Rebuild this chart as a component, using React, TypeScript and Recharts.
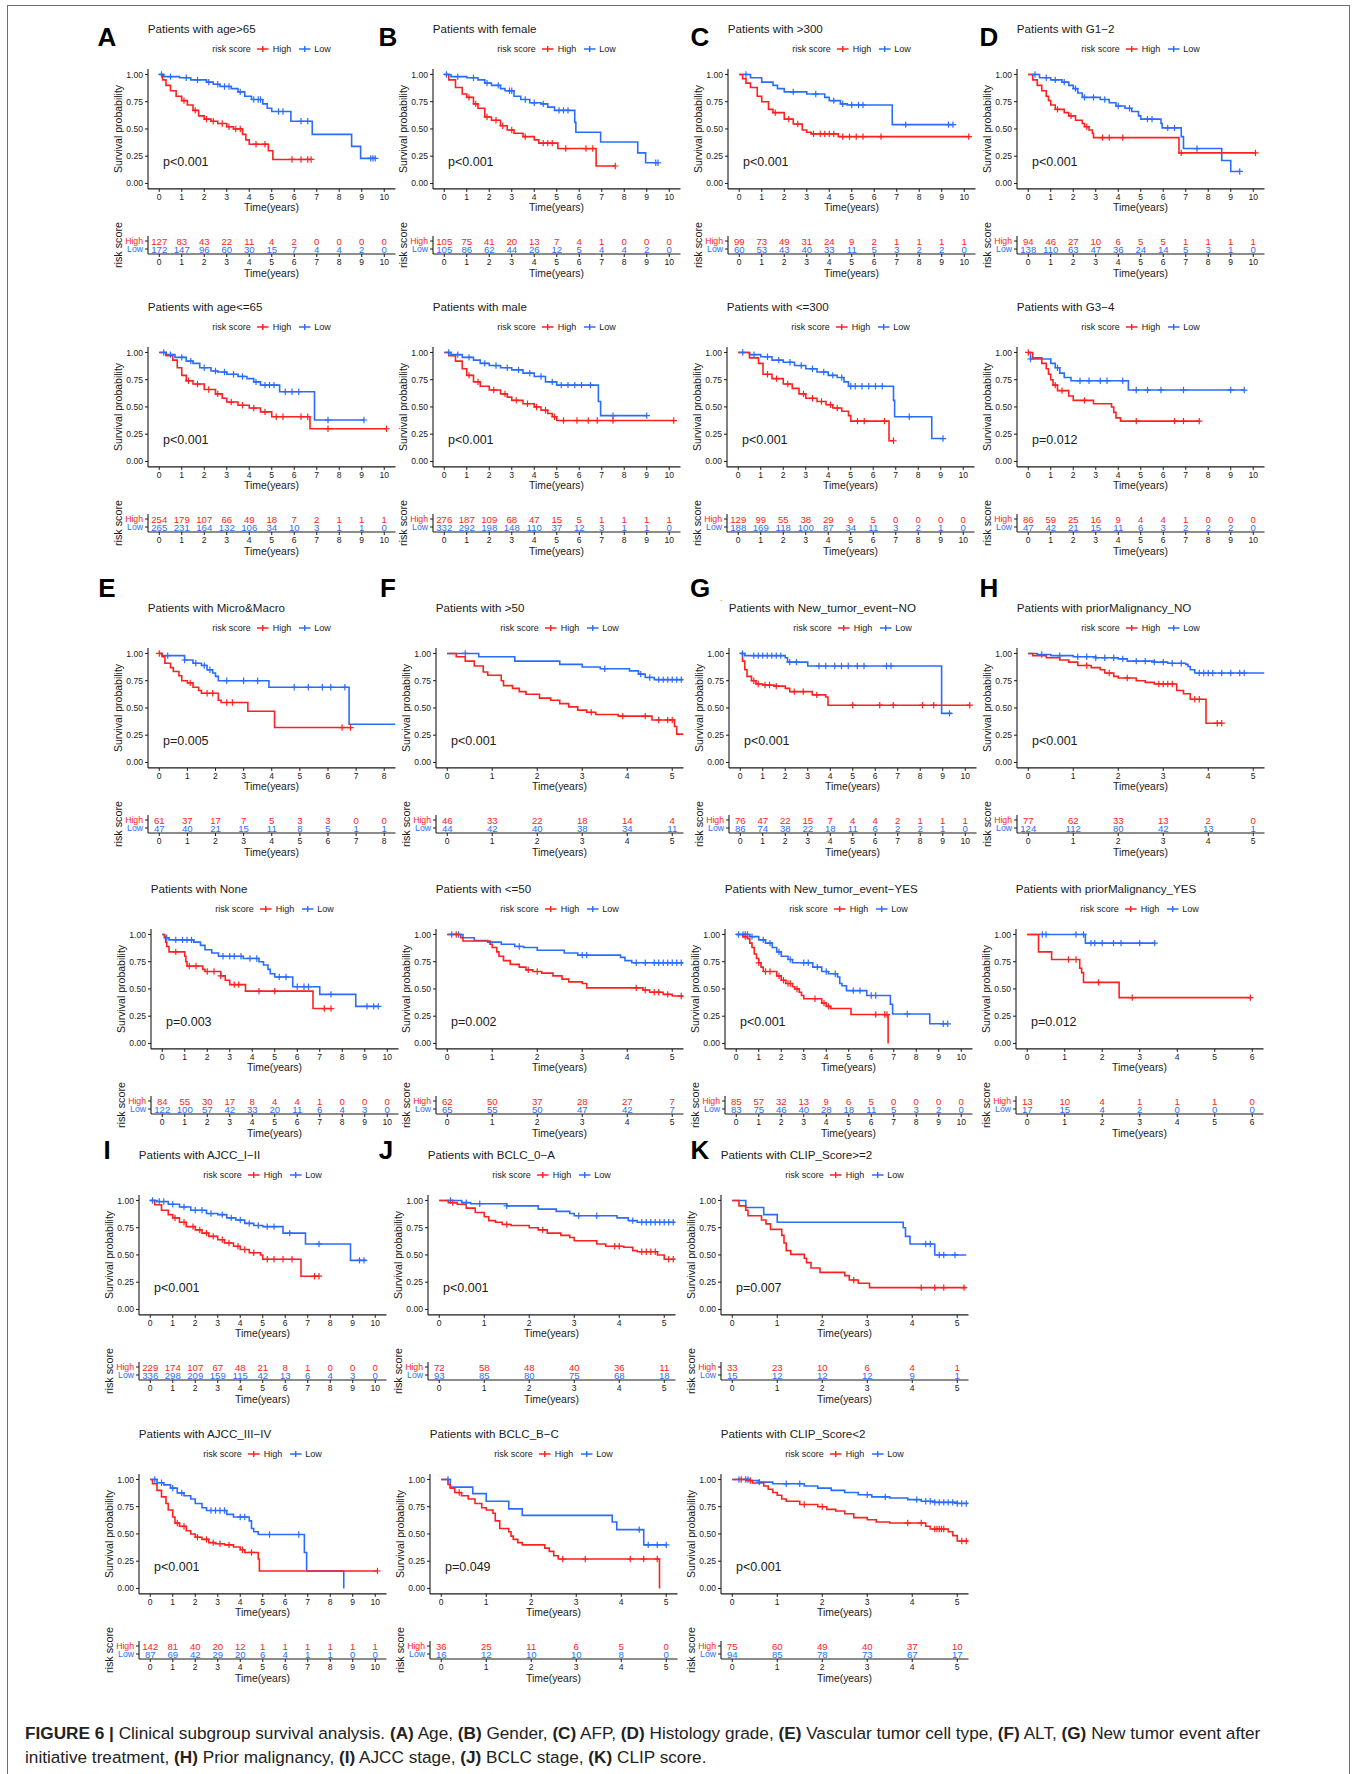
import { ComposedChart, Line, Scatter, XAxis, YAxis } from 'recharts'

type Step = [number, number]

const RED = '#ff2020'
const BLUE = '#2a6cff'
const INK = '#1a1a1a'
const FONT = '"Liberation Sans", Arial, Helvetica, sans-serif'

// ---------- A: age ----------
const ageOldHigh: Step[] = [[0, 1], [0.15, 0.95], [0.3, 0.9], [0.5, 0.85], [0.75, 0.8], [1, 0.76], [1.25, 0.72], [1.5, 0.67], [1.75, 0.62], [2, 0.59], [2.3, 0.57], [2.6, 0.55], [3, 0.52], [3.3, 0.5], [3.7, 0.45], [3.85, 0.4], [4, 0.36], [4.85, 0.3], [5.05, 0.22], [6.75, 0.22]]
const ageOldLow: Step[] = [[0, 1], [0.2, 0.98], [0.9, 0.97], [1.4, 0.95], [2.1, 0.93], [2.4, 0.91], [2.7, 0.89], [3.2, 0.87], [3.5, 0.84], [3.8, 0.8], [4.1, 0.77], [4.6, 0.73], [4.8, 0.69], [5, 0.66], [5.85, 0.57], [6.8, 0.45], [8.55, 0.34], [8.95, 0.23], [9.6, 0.23]]
const ageOldHighCens = [1.1, 1.6, 2.1, 2.4, 2.8, 3.1, 3.4, 3.6, 4.3, 4.7, 5.9, 6.3, 6.6, 6.75]
const ageOldLowCens = [0.1, 0.5, 1.2, 1.7, 2.2, 2.6, 2.9, 3.1, 3.6, 4.2, 4.4, 4.5, 5.3, 5.5, 6.3, 6.6, 9.4, 9.5, 9.6]
const ageOldRiskHigh = [127, 83, 43, 22, 11, 4, 2, 0, 0, 0, 0]
const ageOldRiskLow = [172, 147, 96, 60, 30, 15, 7, 4, 4, 2, 0]

const ageYoungHigh: Step[] = [[0, 1], [0.3, 0.97], [0.6, 0.93], [0.8, 0.86], [1, 0.79], [1.2, 0.74], [1.5, 0.71], [2, 0.66], [2.5, 0.62], [2.8, 0.58], [3, 0.545], [3.5, 0.515], [4, 0.49], [4.5, 0.455], [5, 0.41], [6.7, 0.3], [10.1, 0.3]]
const ageYoungLow: Step[] = [[0, 1], [0.3, 0.98], [0.7, 0.955], [1.2, 0.92], [1.5, 0.9], [1.8, 0.86], [2.3, 0.83], [2.6, 0.82], [3, 0.8], [3.5, 0.78], [3.9, 0.76], [4.2, 0.73], [4.5, 0.7], [5.35, 0.64], [6.9, 0.38], [9.1, 0.38]]
const ageYoungHighCens = [1.3, 1.7, 2.2, 2.6, 3.2, 3.7, 4.2, 4.7, 5.2, 5.5, 6.3, 6.6, 7.5, 10.1]
const ageYoungLowCens = [0.2, 0.5, 1.0, 1.4, 2.0, 2.5, 2.9, 3.3, 3.7, 4.3, 4.7, 4.9, 5.1, 5.6, 5.9, 6.2, 7.5, 9.1]
const ageYoungRiskHigh = [254, 179, 107, 66, 49, 18, 7, 2, 1, 1, 1]
const ageYoungRiskLow = [265, 231, 164, 132, 106, 34, 10, 3, 1, 1, 0]

// ---------- B: gender ----------
const femaleHigh: Step[] = [[0, 1], [0.2, 0.95], [0.5, 0.88], [0.8, 0.82], [1, 0.79], [1.3, 0.73], [1.5, 0.69], [1.8, 0.61], [2.1, 0.58], [2.5, 0.53], [2.8, 0.49], [3.1, 0.46], [3.5, 0.43], [4, 0.4], [4.2, 0.37], [5.05, 0.32], [6.75, 0.16], [7.6, 0.16]]
const femaleLow: Step[] = [[0, 1], [0.3, 0.98], [1, 0.97], [1.5, 0.95], [1.8, 0.92], [2.1, 0.9], [2.5, 0.87], [2.7, 0.85], [3.1, 0.8], [3.4, 0.77], [3.8, 0.74], [4.3, 0.73], [4.6, 0.7], [4.9, 0.67], [5.8, 0.56], [5.85, 0.47], [6.95, 0.38], [8.6, 0.28], [8.95, 0.19], [9.55, 0.19]]
const femaleHighCens = [1.1, 1.4, 1.9, 2.3, 2.6, 3.0, 3.6, 4.4, 4.6, 4.8, 5.4, 6.3, 6.6, 7.6]
const femaleLowCens = [0.1, 0.6, 1.3, 1.9, 2.4, 2.9, 3.0, 3.6, 4.0, 4.4, 5.1, 5.3, 5.5, 9.4, 9.5]
const femaleRiskHigh = [105, 75, 41, 20, 13, 7, 4, 1, 0, 0, 0]
const femaleRiskLow = [105, 86, 62, 44, 26, 12, 5, 4, 4, 2, 0]

const maleHigh: Step[] = [[0, 1], [0.2, 0.97], [0.5, 0.92], [0.8, 0.85], [1, 0.79], [1.3, 0.73], [1.6, 0.69], [2, 0.655], [2.5, 0.62], [2.8, 0.59], [3, 0.56], [3.5, 0.53], [4, 0.5], [4.3, 0.47], [4.6, 0.44], [4.8, 0.41], [5, 0.375], [10.2, 0.375]]
const maleLow: Step[] = [[0, 1], [0.3, 0.98], [0.8, 0.955], [1.3, 0.93], [1.6, 0.9], [2, 0.88], [2.5, 0.86], [3, 0.84], [3.5, 0.81], [4, 0.78], [4.5, 0.73], [5, 0.7], [6.85, 0.55], [6.95, 0.42], [9, 0.42]]
const maleHighCens = [1.1, 1.5, 2.2, 2.7, 3.2, 3.7, 4.1, 4.5, 4.9, 5.3, 5.9, 6.4, 6.8, 7.5, 10.2]
const maleLowCens = [0.2, 0.6, 1.1, 1.8, 2.3, 2.8, 3.3, 3.8, 4.3, 4.8, 5.2, 5.5, 5.8, 6.1, 6.5, 7.5, 9.0]
const maleRiskHigh = [276, 187, 109, 68, 47, 15, 5, 1, 1, 1, 1]
const maleRiskLow = [332, 292, 198, 148, 110, 37, 12, 3, 1, 1, 0]

// ---------- C: AFP ----------
const afpOverHigh: Step[] = [[0, 1], [0.15, 0.96], [0.3, 0.92], [0.5, 0.88], [0.8, 0.8], [1, 0.75], [1.3, 0.68], [1.5, 0.65], [2, 0.59], [2.4, 0.545], [2.8, 0.49], [3, 0.47], [3.2, 0.455], [4.4, 0.43], [10.2, 0.43]]
const afpOverLow: Step[] = [[0, 1], [0.5, 0.97], [1, 0.93], [1.5, 0.9], [1.7, 0.87], [2, 0.84], [3, 0.82], [3.8, 0.79], [4, 0.76], [4.5, 0.73], [4.8, 0.72], [6.8, 0.54], [9.5, 0.54]]
const afpOverHighCens = [1.6, 2.2, 2.6, 3.3, 3.6, 3.8, 4.0, 4.2, 4.6, 4.9, 5.2, 5.5, 6.3, 10.2]
const afpOverLowCens = [0.3, 2.4, 3.4, 4.2, 4.6, 5.0, 5.3, 5.5, 7.4, 9.3, 9.5]
const afpOverRiskHigh = [99, 73, 49, 31, 24, 9, 2, 1, 1, 1, 1]
const afpOverRiskLow = [60, 53, 43, 40, 33, 11, 5, 3, 2, 2, 0]

const afpUnderHigh: Step[] = [[0, 1], [0.5, 0.95], [0.9, 0.9], [1.1, 0.8], [1.5, 0.76], [2, 0.71], [2.4, 0.67], [2.7, 0.62], [3, 0.58], [3.5, 0.55], [3.9, 0.52], [4.2, 0.49], [4.6, 0.46], [4.9, 0.42], [5, 0.37], [6.7, 0.19], [6.9, 0.19]]
const afpUnderLow: Step[] = [[0, 1], [0.5, 0.98], [1, 0.96], [1.5, 0.93], [2, 0.91], [2.5, 0.88], [3, 0.85], [3.5, 0.82], [4, 0.79], [4.4, 0.77], [4.7, 0.73], [4.9, 0.69], [6.9, 0.56], [6.95, 0.41], [8.6, 0.21], [9.1, 0.21]]
const afpUnderHighCens = [1.3, 1.7, 2.2, 2.9, 3.3, 3.7, 4.1, 4.4, 5.3, 5.6, 6.5, 6.9]
const afpUnderLowCens = [0.2, 0.7, 1.3, 1.8, 2.3, 2.8, 3.3, 3.8, 4.2, 4.6, 5.0, 5.2, 5.5, 5.8, 6.1, 6.4, 7.6, 9.1]
const afpUnderRiskHigh = [129, 99, 55, 38, 29, 9, 5, 0, 0, 0, 0]
const afpUnderRiskLow = [188, 169, 118, 100, 87, 34, 11, 3, 2, 1, 0]

// ---------- D: histology grade ----------
const g12High: Step[] = [[0, 1], [0.2, 0.95], [0.4, 0.9], [0.6, 0.85], [0.8, 0.8], [0.9, 0.76], [1, 0.72], [1.2, 0.68], [1.6, 0.65], [1.8, 0.62], [2.1, 0.58], [2.4, 0.55], [2.5, 0.52], [2.7, 0.49], [2.85, 0.46], [2.9, 0.42], [6.7, 0.28], [10.1, 0.28]]
const g12Low: Step[] = [[0, 1], [0.5, 0.97], [1, 0.95], [1.5, 0.93], [1.8, 0.9], [2, 0.87], [2.2, 0.83], [2.4, 0.79], [3.2, 0.77], [3.6, 0.74], [3.9, 0.71], [4.3, 0.69], [4.6, 0.66], [4.9, 0.62], [5, 0.59], [5.9, 0.55], [5.95, 0.51], [6.8, 0.43], [6.9, 0.32], [8.6, 0.21], [9, 0.11], [9.4, 0.11]]
const g12HighCens = [1.3, 1.9, 2.6, 3.3, 3.6, 4.2, 6.8, 10.1]
const g12LowCens = [0.3, 0.8, 1.2, 1.6, 2.1, 2.5, 2.9, 3.4, 4.0, 4.5, 5.3, 5.5, 6.2, 6.5, 7.5, 9.4]
const g12RiskHigh = [94, 46, 27, 10, 6, 5, 5, 1, 1, 1, 1]
const g12RiskLow = [138, 110, 63, 47, 36, 24, 14, 5, 3, 1, 0]

const g34High: Step[] = [[0, 1], [0.2, 0.95], [0.6, 0.9], [0.8, 0.85], [0.9, 0.8], [1, 0.75], [1.1, 0.7], [1.3, 0.65], [1.8, 0.6], [2, 0.56], [2.9, 0.53], [3.7, 0.5], [3.8, 0.45], [3.9, 0.4], [4.1, 0.37], [7.6, 0.37]]
const g34Low: Step[] = [[0, 1], [0.1, 0.94], [1, 0.9], [1.2, 0.86], [1.4, 0.81], [1.6, 0.77], [1.9, 0.74], [4.45, 0.655], [9.6, 0.655]]
const g34HighCens = [0, 1.2, 1.5, 2.5, 4.8, 6.5, 6.9, 7.6]
const g34LowCens = [0.1, 1.3, 2.3, 2.7, 3.2, 3.5, 4.2, 4.8, 5.3, 5.9, 6.9, 9.0, 9.6]
const g34RiskHigh = [86, 59, 25, 16, 9, 4, 4, 1, 0, 0, 0]
const g34RiskLow = [47, 42, 21, 15, 11, 6, 3, 2, 2, 2, 0]

// ---------- E: vascular tumor cell type ----------
const microHigh: Step[] = [[0, 1], [0.1, 0.97], [0.2, 0.91], [0.4, 0.87], [0.5, 0.835], [0.7, 0.795], [0.8, 0.75], [1, 0.73], [1.2, 0.69], [1.4, 0.66], [1.5, 0.635], [2.1, 0.57], [2.2, 0.55], [3.15, 0.47], [4.1, 0.32], [6.8, 0.32]]
const microLow: Step[] = [[0, 1], [0.1, 0.98], [0.9, 0.94], [1.2, 0.91], [1.5, 0.89], [1.7, 0.85], [1.9, 0.82], [2, 0.79], [2.1, 0.75], [3.9, 0.69], [6.75, 0.35], [8.4, 0.35]]
const microHighCens = [0, 1.1, 1.7, 1.9, 2.4, 2.6, 6.5, 6.8]
const microLowCens = [0.3, 0.9, 1.3, 1.6, 1.8, 2.4, 3.0, 3.5, 4.8, 5.3, 5.8, 6.1, 6.6]
const microRiskHigh = [61, 37, 17, 7, 5, 3, 3, 0, 0]
const microRiskLow = [47, 40, 21, 15, 11, 8, 5, 1, 1]

const noneHigh: Step[] = [[0, 1], [0.1, 0.98], [0.15, 0.93], [0.2, 0.89], [0.3, 0.84], [1, 0.8], [1.05, 0.75], [1.1, 0.71], [1.8, 0.68], [1.9, 0.66], [2.6, 0.62], [2.8, 0.58], [3, 0.54], [3.7, 0.48], [6.7, 0.32], [7.5, 0.32]]
const noneLow: Step[] = [[0, 1], [0.1, 0.97], [0.3, 0.95], [1.4, 0.93], [1.7, 0.9], [1.9, 0.86], [2.2, 0.83], [2.5, 0.8], [3.6, 0.78], [4.3, 0.75], [4.5, 0.72], [4.7, 0.68], [4.8, 0.64], [5, 0.61], [5.8, 0.52], [7, 0.45], [8.6, 0.34], [9.6, 0.34]]
const noneHighCens = [0.6, 1.2, 1.5, 2.0, 2.3, 2.6, 3.2, 3.4, 4.3, 5.0, 7.2, 7.5]
const noneLowCens = [0.2, 0.6, 0.9, 1.1, 1.3, 2.7, 3.0, 3.2, 3.5, 3.9, 4.2, 5.2, 5.5, 6.0, 6.3, 6.5, 7.5, 9.1, 9.4, 9.6]
const noneRiskHigh = [84, 55, 30, 17, 8, 4, 4, 1, 0, 0, 0]
const noneRiskLow = [122, 100, 57, 42, 33, 20, 11, 6, 4, 3, 0]

// ---------- F: ALT ----------
const altOverHigh: Step[] = [[0, 1], [0.2, 0.97], [0.4, 0.93], [0.6, 0.885], [0.8, 0.83], [0.9, 0.8], [1.2, 0.75], [1.25, 0.705], [1.45, 0.68], [1.6, 0.65], [1.75, 0.625], [2.05, 0.59], [2.3, 0.57], [2.5, 0.54], [2.7, 0.51], [2.9, 0.48], [3.1, 0.46], [3.3, 0.44], [3.8, 0.425], [4.55, 0.39], [5.05, 0.33], [5.1, 0.26], [5.25, 0.26]]
const altOverLow: Step[] = [[0, 1], [0.7, 0.97], [1.5, 0.93], [2.5, 0.9], [3, 0.876], [3.4, 0.86], [4.05, 0.84], [4.25, 0.81], [4.4, 0.78], [4.6, 0.76], [5.25, 0.76]]
const altOverHighCens = [3.2, 3.9, 4.4, 4.7, 4.9, 5.0]
const altOverLowCens = [0.4, 3.5, 4.3, 4.5, 4.7, 4.8, 4.9, 5.0, 5.1, 5.2]
const altOverRiskHigh = [46, 33, 22, 18, 14, 4]
const altOverRiskLow = [44, 42, 40, 38, 34, 11]

const altUnderHigh: Step[] = [[0, 1], [0.3, 0.97], [0.35, 0.94], [0.95, 0.91], [1, 0.88], [1.1, 0.84], [1.15, 0.8], [1.25, 0.76], [1.4, 0.725], [1.6, 0.7], [1.75, 0.675], [1.9, 0.66], [2.1, 0.645], [2.35, 0.62], [2.55, 0.59], [2.7, 0.565], [3, 0.55], [3.1, 0.51], [4.35, 0.49], [4.5, 0.47], [4.8, 0.45], [5, 0.435], [5.25, 0.435]]
const altUnderLow: Step[] = [[0, 1], [0.35, 0.97], [0.6, 0.945], [0.9, 0.93], [1.2, 0.91], [1.5, 0.89], [1.7, 0.88], [2, 0.855], [2.6, 0.83], [2.9, 0.81], [3.85, 0.79], [3.95, 0.76], [4.1, 0.74], [5.25, 0.74]]
const altUnderHighCens = [0.2, 1.8, 2.0, 4.2, 4.4, 4.6, 4.7, 4.9, 5.2]
const altUnderLowCens = [0.1, 0.25, 1.6, 3.0, 3.1, 4.2, 4.4, 4.6, 4.7, 4.8, 4.9, 5.0, 5.1, 5.2]
const altUnderRiskHigh = [62, 50, 37, 28, 27, 7]
const altUnderRiskLow = [65, 55, 50, 47, 42, 7]

// ---------- G: new tumor event ----------
const newNoHigh: Step[] = [[0, 1], [0.1, 0.93], [0.2, 0.85], [0.3, 0.79], [0.5, 0.75], [0.7, 0.72], [1, 0.71], [1.5, 0.7], [2, 0.68], [2.2, 0.65], [3.2, 0.62], [3.8, 0.6], [3.9, 0.525], [10.2, 0.525]]
const newNoLow: Step[] = [[0, 1], [0.2, 0.98], [2, 0.96], [2.1, 0.92], [3, 0.885], [8.95, 0.45], [9.4, 0.45]]
const newNoHighCens = [0.6, 0.8, 1.1, 1.3, 1.6, 2.4, 2.8, 3.4, 5.0, 6.2, 6.8, 8.1, 8.6, 10.2]
const newNoLowCens = [0.1, 0.6, 0.8, 1.0, 1.2, 1.4, 1.6, 1.8, 2.2, 2.5, 3.5, 3.8, 4.2, 4.5, 4.8, 5.2, 5.5, 6.5, 6.7, 9.3]
const newNoRiskHigh = [76, 47, 22, 15, 7, 4, 4, 2, 1, 1, 1]
const newNoRiskLow = [86, 74, 38, 22, 18, 11, 6, 2, 2, 1, 0]

const newYesHigh: Step[] = [[0, 1], [0.3, 0.98], [0.5, 0.96], [0.6, 0.92], [0.7, 0.88], [0.8, 0.82], [0.9, 0.78], [1, 0.74], [1.1, 0.7], [1.2, 0.66], [1.8, 0.62], [2, 0.58], [2.2, 0.55], [2.5, 0.52], [2.6, 0.5], [2.8, 0.47], [2.9, 0.44], [3, 0.41], [3.8, 0.37], [4, 0.34], [4.2, 0.32], [5.1, 0.265], [6.75, 0]]
const newYesLow: Step[] = [[0, 1], [0.6, 0.98], [1, 0.95], [1.3, 0.92], [1.6, 0.88], [1.8, 0.84], [2, 0.8], [2.3, 0.77], [2.5, 0.74], [3.4, 0.7], [3.8, 0.66], [4.1, 0.64], [4.5, 0.61], [4.6, 0.55], [4.7, 0.53], [4.9, 0.485], [5.8, 0.44], [6.85, 0.36], [6.95, 0.27], [8.6, 0.18], [9.4, 0.18]]
const newYesHighCens = [0.4, 1.0, 1.3, 1.5, 1.9, 2.1, 2.3, 2.4, 2.7, 3.5, 3.9, 4.1, 6.2, 6.6, 6.7]
const newYesLowCens = [0.1, 0.3, 0.4, 0.5, 0.7, 1.2, 1.5, 1.9, 2.4, 3.0, 3.2, 3.6, 4.0, 4.4, 5.2, 5.5, 6.0, 6.2, 7.6, 9.2, 9.4]
const newYesRiskHigh = [85, 57, 32, 13, 9, 6, 5, 0, 0, 0, 0]
const newYesRiskLow = [83, 75, 46, 40, 28, 18, 11, 5, 3, 2, 0]

// ---------- H: prior malignancy ----------
const priorNoHigh: Step[] = [[0, 1], [0.1, 0.98], [0.4, 0.96], [0.7, 0.94], [0.9, 0.92], [1.1, 0.89], [1.4, 0.87], [1.6, 0.85], [1.7, 0.82], [1.9, 0.79], [2, 0.775], [2.4, 0.75], [2.6, 0.735], [2.8, 0.72], [3.3, 0.66], [3.45, 0.63], [3.6, 0.58], [3.95, 0.36], [4.3, 0.36]]
const priorNoLow: Step[] = [[0, 1], [0.2, 0.99], [0.5, 0.98], [1, 0.97], [1.5, 0.96], [2, 0.95], [2.2, 0.93], [2.8, 0.92], [3.1, 0.91], [3.5, 0.9], [3.55, 0.88], [3.6, 0.85], [3.7, 0.82], [5.25, 0.82]]
const priorNoHighCens = [1.3, 1.8, 2.2, 2.9, 3.0, 3.1, 3.2, 3.7, 3.8, 4.2, 4.3]
const priorNoLowCens = [0.3, 0.7, 1.1, 1.3, 1.5, 1.7, 1.9, 2.1, 2.4, 2.6, 2.8, 3.0, 3.2, 3.4, 3.8, 3.9, 4.0, 4.1, 4.3, 4.5, 4.7, 4.8]
const priorNoRiskHigh = [77, 62, 33, 13, 2, 0]
const priorNoRiskLow = [124, 112, 80, 42, 13, 1]

const priorYesHigh: Step[] = [[0, 1], [0.3, 0.84], [0.65, 0.77], [1.4, 0.69], [1.45, 0.65], [1.5, 0.56], [2.45, 0.42], [5.95, 0.42]]
const priorYesLow: Step[] = [[0, 1], [1.55, 0.92], [3.4, 0.92]]
const priorYesHighCens = [1.1, 1.3, 1.9, 2.8, 5.95]
const priorYesLowCens = [0.4, 0.5, 1.3, 1.5, 1.7, 1.8, 2.0, 2.3, 2.5, 3.0, 3.4]
const priorYesRiskHigh = [13, 10, 4, 1, 1, 1, 0]
const priorYesRiskLow = [17, 15, 4, 2, 0, 0, 0]

// ---------- I: AJCC stage ----------
const ajccEarlyHigh: Step[] = [[0, 1], [0.2, 0.96], [0.5, 0.91], [0.8, 0.87], [1, 0.84], [1.3, 0.8], [1.6, 0.76], [2, 0.73], [2.3, 0.7], [2.6, 0.67], [3, 0.64], [3.3, 0.61], [3.7, 0.58], [4, 0.55], [4.4, 0.52], [4.9, 0.5], [5, 0.46], [6.7, 0.305], [7.5, 0.305]]
const ajccEarlyLow: Step[] = [[0, 1], [0.3, 0.99], [0.8, 0.965], [1.3, 0.94], [1.8, 0.91], [2.5, 0.88], [3, 0.87], [3.4, 0.84], [3.8, 0.82], [4.2, 0.79], [4.6, 0.77], [5, 0.76], [5.9, 0.7], [6.9, 0.6], [8.9, 0.45], [9.6, 0.45]]
const ajccEarlyHighCens = [1.1, 1.5, 1.9, 2.2, 2.5, 2.8, 3.2, 3.5, 3.9, 4.2, 4.6, 5.2, 5.5, 5.9, 6.3, 7.3, 7.5]
const ajccEarlyLowCens = [0.1, 0.4, 0.6, 1.0, 1.5, 2.0, 2.3, 2.7, 3.2, 3.6, 4.0, 4.4, 4.8, 5.2, 5.5, 6.2, 7.5, 9.3, 9.5]
const ajccEarlyRiskHigh = [229, 174, 107, 67, 48, 21, 8, 1, 0, 0, 0]
const ajccEarlyRiskLow = [336, 298, 209, 159, 115, 42, 13, 6, 4, 3, 0]

const ajccLateHigh: Step[] = [[0, 1], [0.1, 0.96], [0.3, 0.9], [0.5, 0.84], [0.7, 0.78], [0.8, 0.72], [1, 0.655], [1.1, 0.6], [1.3, 0.57], [1.6, 0.53], [1.8, 0.5], [2, 0.47], [2.3, 0.45], [2.6, 0.42], [2.9, 0.41], [3.3, 0.4], [3.7, 0.38], [4, 0.355], [4.2, 0.33], [4.8, 0.27], [4.85, 0.16], [10.1, 0.16]]
const ajccLateLow: Step[] = [[0, 1], [0.3, 0.97], [0.6, 0.95], [0.9, 0.92], [1.2, 0.877], [1.5, 0.85], [1.8, 0.82], [2, 0.78], [2.3, 0.74], [2.5, 0.715], [3.4, 0.68], [3.7, 0.655], [4.4, 0.62], [4.5, 0.55], [4.6, 0.52], [4.8, 0.495], [6.85, 0.33], [6.95, 0.16], [8.6, 0]]
const ajccLateHighCens = [1.2, 1.5, 2.1, 2.5, 2.8, 3.1, 3.5, 4.1, 4.5, 10.1]
const ajccLateLowCens = [0.2, 0.5, 1.0, 1.4, 2.7, 2.9, 3.1, 3.3, 4.0, 4.2, 5.3, 6.6]
const ajccLateRiskHigh = [142, 81, 40, 20, 12, 1, 1, 1, 1, 1, 1]
const ajccLateRiskLow = [87, 69, 42, 29, 20, 6, 4, 1, 1, 0, 0]

// ---------- J: BCLC stage ----------
const bclcEarlyHigh: Step[] = [[0, 1], [0.2, 0.98], [0.4, 0.965], [0.6, 0.93], [0.8, 0.89], [1, 0.85], [1.1, 0.815], [1.25, 0.8], [1.4, 0.78], [1.6, 0.77], [2, 0.75], [2.2, 0.73], [2.4, 0.7], [2.7, 0.68], [2.9, 0.66], [3, 0.63], [3.5, 0.6], [3.7, 0.58], [4.1, 0.57], [4.3, 0.54], [4.4, 0.53], [4.85, 0.5], [5, 0.46], [5.25, 0.46]]
const bclcEarlyLow: Step[] = [[0, 1], [0.5, 0.98], [0.7, 0.97], [1.5, 0.95], [2.2, 0.92], [2.6, 0.9], [2.9, 0.88], [3, 0.86], [3.95, 0.84], [4.2, 0.815], [4.4, 0.8], [5.25, 0.8]]
const bclcEarlyHighCens = [0.3, 1.5, 2.3, 3.9, 4.0, 4.5, 4.6, 4.7, 4.8, 5.1, 5.2]
const bclcEarlyLowCens = [0.25, 0.6, 0.9, 1.5, 3.1, 3.5, 4.3, 4.5, 4.6, 4.7, 4.8, 4.9, 5.0, 5.1, 5.2]
const bclcEarlyRiskHigh = [72, 58, 48, 40, 36, 11]
const bclcEarlyRiskLow = [93, 85, 80, 75, 68, 18]

const bclcLateHigh: Step[] = [[0, 1], [0.15, 0.955], [0.2, 0.92], [0.3, 0.88], [0.45, 0.85], [0.6, 0.82], [0.75, 0.78], [0.9, 0.74], [1, 0.72], [1.15, 0.69], [1.2, 0.62], [1.3, 0.55], [1.5, 0.52], [1.55, 0.48], [1.6, 0.45], [1.7, 0.42], [1.8, 0.4], [2.3, 0.37], [2.4, 0.34], [2.5, 0.3], [2.6, 0.27], [4.85, 0]]
const bclcLateLow: Step[] = [[0, 1], [0.2, 0.93], [0.7, 0.87], [1, 0.8], [1.5, 0.73], [1.8, 0.67], [3.8, 0.61], [3.9, 0.54], [4.5, 0.4], [5, 0.4]]
const bclcLateHighCens = [0.4, 2.7, 3.2, 4.2, 4.5, 4.8]
const bclcLateLowCens = [0.15, 4.4, 4.6, 4.8, 5.0]
const bclcLateRiskHigh = [36, 25, 11, 6, 5, 0]
const bclcLateRiskLow = [16, 12, 10, 10, 8, 0]

// ---------- K: CLIP score ----------
const clipHighHigh: Step[] = [[0, 1], [0.15, 0.95], [0.3, 0.91], [0.35, 0.86], [0.65, 0.82], [0.75, 0.785], [0.85, 0.735], [1.1, 0.68], [1.15, 0.61], [1.2, 0.54], [1.3, 0.505], [1.6, 0.47], [1.65, 0.43], [1.75, 0.38], [1.95, 0.34], [2.5, 0.31], [2.6, 0.27], [2.8, 0.24], [3.05, 0.2], [5.2, 0.2]]
const clipHighLow: Step[] = [[0, 1], [0.3, 0.935], [0.7, 0.87], [1, 0.8], [3.8, 0.75], [3.85, 0.67], [3.95, 0.6], [4.5, 0.5], [5.2, 0.5]]
const clipHighHighCens = [2.7, 4.2, 4.5, 4.7, 5.15]
const clipHighLowCens = [4.3, 4.4, 4.6, 4.7, 4.95]
const clipHighRiskHigh = [33, 23, 10, 6, 4, 1]
const clipHighRiskLow = [15, 12, 12, 12, 9, 1]

const clipLowHigh: Step[] = [[0, 1], [0.3, 0.99], [0.45, 0.967], [0.7, 0.94], [0.8, 0.91], [0.9, 0.88], [1, 0.855], [1.1, 0.82], [1.2, 0.8], [1.5, 0.77], [1.9, 0.75], [2.1, 0.725], [2.3, 0.71], [2.5, 0.685], [2.7, 0.65], [3, 0.63], [3.2, 0.61], [3.5, 0.6], [4.3, 0.57], [4.4, 0.545], [4.8, 0.52], [4.9, 0.485], [5, 0.435], [5.25, 0.435]]
const clipLowLow: Step[] = [[0, 1], [0.4, 0.99], [0.6, 0.975], [0.9, 0.96], [1.6, 0.94], [1.9, 0.92], [2.2, 0.9], [2.5, 0.88], [2.8, 0.86], [3.1, 0.84], [3.5, 0.83], [3.9, 0.815], [4.2, 0.8], [4.5, 0.79], [5, 0.78], [5.25, 0.78]]
const clipLowHighCens = [0.2, 0.4, 1.6, 2.0, 3.9, 4.2, 4.5, 4.55, 4.6, 4.65, 4.7, 5.1, 5.2]
const clipLowLowCens = [0.15, 0.3, 0.35, 0.6, 1.2, 1.5, 3.0, 3.4, 4.1, 4.3, 4.4, 4.5, 4.6, 4.7, 4.8, 4.9, 5.0, 5.1, 5.2]
const clipLowRiskHigh = [75, 60, 49, 40, 37, 10]
const clipLowRiskLow = [94, 85, 78, 73, 67, 17]

interface Panel {
  title: string
  p: string
  xmax: number
  x0: number // pixel position of t = 0
  y1: number // pixel position of survival = 1
  high: Step[]
  low: Step[]
  highCens: number[]
  lowCens: number[]
  riskHigh: number[]
  riskLow: number[]
}

const ROW_Y = [74, 352, 653, 934, 1200, 1479]

const panels: Panel[] = [
  { title: 'Patients with age>65', p: 'p<0.001', xmax: 10, x0: 159, y1: ROW_Y[0], high: ageOldHigh, low: ageOldLow, highCens: ageOldHighCens, lowCens: ageOldLowCens, riskHigh: ageOldRiskHigh, riskLow: ageOldRiskLow },
  { title: 'Patients with female', p: 'p<0.001', xmax: 10, x0: 444, y1: ROW_Y[0], high: femaleHigh, low: femaleLow, highCens: femaleHighCens, lowCens: femaleLowCens, riskHigh: femaleRiskHigh, riskLow: femaleRiskLow },
  { title: 'Patients with >300', p: 'p<0.001', xmax: 10, x0: 739, y1: ROW_Y[0], high: afpOverHigh, low: afpOverLow, highCens: afpOverHighCens, lowCens: afpOverLowCens, riskHigh: afpOverRiskHigh, riskLow: afpOverRiskLow },
  { title: 'Patients with G1\u22122', p: 'p<0.001', xmax: 10, x0: 1028, y1: ROW_Y[0], high: g12High, low: g12Low, highCens: g12HighCens, lowCens: g12LowCens, riskHigh: g12RiskHigh, riskLow: g12RiskLow },
  { title: 'Patients with age<=65', p: 'p<0.001', xmax: 10, x0: 159, y1: ROW_Y[1], high: ageYoungHigh, low: ageYoungLow, highCens: ageYoungHighCens, lowCens: ageYoungLowCens, riskHigh: ageYoungRiskHigh, riskLow: ageYoungRiskLow },
  { title: 'Patients with male', p: 'p<0.001', xmax: 10, x0: 444, y1: ROW_Y[1], high: maleHigh, low: maleLow, highCens: maleHighCens, lowCens: maleLowCens, riskHigh: maleRiskHigh, riskLow: maleRiskLow },
  { title: 'Patients with <=300', p: 'p<0.001', xmax: 10, x0: 738, y1: ROW_Y[1], high: afpUnderHigh, low: afpUnderLow, highCens: afpUnderHighCens, lowCens: afpUnderLowCens, riskHigh: afpUnderRiskHigh, riskLow: afpUnderRiskLow },
  { title: 'Patients with G3\u22124', p: 'p=0.012', xmax: 10, x0: 1028, y1: ROW_Y[1], high: g34High, low: g34Low, highCens: g34HighCens, lowCens: g34LowCens, riskHigh: g34RiskHigh, riskLow: g34RiskLow },
  { title: 'Patients with Micro&Macro', p: 'p=0.005', xmax: 8, x0: 159, y1: ROW_Y[2], high: microHigh, low: microLow, highCens: microHighCens, lowCens: microLowCens, riskHigh: microRiskHigh, riskLow: microRiskLow },
  { title: 'Patients with >50', p: 'p<0.001', xmax: 5, x0: 447, y1: ROW_Y[2], high: altOverHigh, low: altOverLow, highCens: altOverHighCens, lowCens: altOverLowCens, riskHigh: altOverRiskHigh, riskLow: altOverRiskLow },
  { title: 'Patients with New_tumor_event\u2212NO', p: 'p<0.001', xmax: 10, x0: 740, y1: ROW_Y[2], high: newNoHigh, low: newNoLow, highCens: newNoHighCens, lowCens: newNoLowCens, riskHigh: newNoRiskHigh, riskLow: newNoRiskLow },
  { title: 'Patients with priorMalignancy_NO', p: 'p<0.001', xmax: 5, x0: 1028, y1: ROW_Y[2], high: priorNoHigh, low: priorNoLow, highCens: priorNoHighCens, lowCens: priorNoLowCens, riskHigh: priorNoRiskHigh, riskLow: priorNoRiskLow },
  { title: 'Patients with None', p: 'p=0.003', xmax: 10, x0: 162, y1: ROW_Y[3], high: noneHigh, low: noneLow, highCens: noneHighCens, lowCens: noneLowCens, riskHigh: noneRiskHigh, riskLow: noneRiskLow },
  { title: 'Patients with <=50', p: 'p=0.002', xmax: 5, x0: 447, y1: ROW_Y[3], high: altUnderHigh, low: altUnderLow, highCens: altUnderHighCens, lowCens: altUnderLowCens, riskHigh: altUnderRiskHigh, riskLow: altUnderRiskLow },
  { title: 'Patients with New_tumor_event\u2212YES', p: 'p<0.001', xmax: 10, x0: 736, y1: ROW_Y[3], high: newYesHigh, low: newYesLow, highCens: newYesHighCens, lowCens: newYesLowCens, riskHigh: newYesRiskHigh, riskLow: newYesRiskLow },
  { title: 'Patients with priorMalignancy_YES', p: 'p=0.012', xmax: 6, x0: 1027, y1: ROW_Y[3], high: priorYesHigh, low: priorYesLow, highCens: priorYesHighCens, lowCens: priorYesLowCens, riskHigh: priorYesRiskHigh, riskLow: priorYesRiskLow },
  { title: 'Patients with AJCC_I\u2212II', p: 'p<0.001', xmax: 10, x0: 150, y1: ROW_Y[4], high: ajccEarlyHigh, low: ajccEarlyLow, highCens: ajccEarlyHighCens, lowCens: ajccEarlyLowCens, riskHigh: ajccEarlyRiskHigh, riskLow: ajccEarlyRiskLow },
  { title: 'Patients with BCLC_0\u2212A', p: 'p<0.001', xmax: 5, x0: 439, y1: ROW_Y[4], high: bclcEarlyHigh, low: bclcEarlyLow, highCens: bclcEarlyHighCens, lowCens: bclcEarlyLowCens, riskHigh: bclcEarlyRiskHigh, riskLow: bclcEarlyRiskLow },
  { title: 'Patients with CLIP_Score>=2', p: 'p=0.007', xmax: 5, x0: 732, y1: ROW_Y[4], high: clipHighHigh, low: clipHighLow, highCens: clipHighHighCens, lowCens: clipHighLowCens, riskHigh: clipHighRiskHigh, riskLow: clipHighRiskLow },
  { title: 'Patients with AJCC_III\u2212IV', p: 'p<0.001', xmax: 10, x0: 150, y1: ROW_Y[5], high: ajccLateHigh, low: ajccLateLow, highCens: ajccLateHighCens, lowCens: ajccLateLowCens, riskHigh: ajccLateRiskHigh, riskLow: ajccLateRiskLow },
  { title: 'Patients with BCLC_B\u2212C', p: 'p=0.049', xmax: 5, x0: 441, y1: ROW_Y[5], high: bclcLateHigh, low: bclcLateLow, highCens: bclcLateHighCens, lowCens: bclcLateLowCens, riskHigh: bclcLateRiskHigh, riskLow: bclcLateRiskLow },
  { title: 'Patients with CLIP_Score<2', p: 'p<0.001', xmax: 5, x0: 732, y1: ROW_Y[5], high: clipLowHigh, low: clipLowLow, highCens: clipLowHighCens, lowCens: clipLowLowCens, riskHigh: clipLowRiskHigh, riskLow: clipLowRiskLow },
]

const letters = [
  { t: 'A', x: 107, y: 37 }, { t: 'B', x: 388, y: 37 }, { t: 'C', x: 700, y: 37 }, { t: 'D', x: 989, y: 37 },
  { t: 'E', x: 107, y: 588 }, { t: 'F', x: 388, y: 588 }, { t: 'G', x: 700, y: 588 }, { t: 'H', x: 989, y: 588 },
  { t: 'I', x: 107, y: 1150 }, { t: 'J', x: 386, y: 1150 }, { t: 'K', x: 700, y: 1150 },
]

// plot geometry shared by every panel
const SPAN = 225 // px covered by t = 0..xmax
const PLOT_W = SPAN * 1.1
const UNIT_Y = 109 // px covered by survival 0..1
const PLOT_H = UNIT_Y * 1.1
const AXIS_W = 60
const TICK_FONT = 8.6

const survAt = (steps: Step[], t: number) => {
  let s = steps[0][1]
  for (const [st, sv] of steps) if (st <= t) s = sv
  return s
}

const plus = (color: string) => (props: any) => {
  const { cx, cy } = props
  if (cx == null || cy == null) return <g />
  return <path d={`M${cx - 3.2},${cy}H${cx + 3.2}M${cx},${cy - 3.2}V${cy + 3.2}`} stroke={color} strokeWidth={1.2} fill="none" />
}

const countLabel = (color: string) => (props: any) => {
  const { cx, cy, payload } = props
  if (cx == null || cy == null) return <g />
  return (
    <text x={cx} y={cy} textAnchor="middle" dominantBaseline="central" fontSize={9.6} fill={color}>
      {payload.n}
    </text>
  )
}

const RiskTick = (props: any) => {
  const { x, y, payload } = props
  const isHigh = payload.value === 2
  return (
    <text x={x} y={y} textAnchor="end" dominantBaseline="central" fontSize={8.7} fill={isHigh ? RED : BLUE}>
      {isHigh ? 'High' : 'Low'}
    </text>
  )
}

const axisProps = {
  stroke: INK,
  tickSize: 3,
  tickMargin: 2,
  axisLine: { stroke: INK, strokeWidth: 1.1 },
  tickLine: { stroke: INK, strokeWidth: 1 },
}

function Legend({ cx, cy }: { cx: number; cy: number }) {
  const key = (color: string) => (
    <svg width={12} height={8} style={{ display: 'block' }}>
      <line x1={0} y1={4} x2={12} y2={4} stroke={color} strokeWidth={1.6} />
      <path d="M6,1V7" stroke={color} strokeWidth={1.4} />
    </svg>
  )
  return (
    <div style={{ position: 'absolute', left: cx, top: cy, transform: 'translate(-50%,-50%)', display: 'flex', alignItems: 'center', gap: 4, fontSize: 9, color: INK, whiteSpace: 'nowrap' }}>
      <span style={{ marginRight: 2 }}>risk score</span>
      {key(RED)}
      <span style={{ marginRight: 3 }}>High</span>
      {key(BLUE)}
      <span>Low</span>
    </div>
  )
}

function KMPanel({ p }: { p: Panel }) {
  const pad = p.xmax * 0.05
  const xDomain = [-pad, p.xmax + pad]
  const xTicks = Array.from({ length: p.xmax + 1 }, (_, i) => i)
  const plotLeft = p.x0 - SPAN * 0.05
  const plotTop = p.y1 - UNIT_Y * 0.05
  const midX = plotLeft + PLOT_W / 2

  const highLine = p.high.map(([t, s]) => ({ t, s }))
  const lowLine = p.low.map(([t, s]) => ({ t, s }))
  const highMarks = p.highCens.map(t => ({ t, s: survAt(p.high, t) }))
  const lowMarks = p.lowCens.map(t => ({ t, s: survAt(p.low, t) }))
  const tableHigh = p.riskHigh.map((n, i) => ({ t: i, row: 2, n }))
  const tableLow = p.riskLow.map((n, i) => ({ t: i, row: 1, n }))

  const label = (text: string, x: number, y: number, size: number, extra: React.CSSProperties = {}) => (
    <div style={{ position: 'absolute', left: x, top: y, transform: 'translate(-50%,-50%)', fontSize: size, color: INK, whiteSpace: 'nowrap', ...extra }}>{text}</div>
  )

  return (
    <>
      <div style={{ position: 'absolute', left: plotLeft, top: p.y1 - 46, transform: 'translateY(-50%)', fontSize: 11.6, color: INK, whiteSpace: 'nowrap' }}>{p.title}</div>
      <Legend cx={midX} cy={p.y1 - 25} />

      <div style={{ position: 'absolute', left: plotLeft - AXIS_W, top: plotTop - 4 }}>
        <ComposedChart width={PLOT_W + AXIS_W + 8} height={PLOT_H + 24} margin={{ top: 4, right: 8, bottom: 0, left: 0 }}>
          <XAxis {...axisProps} type="number" dataKey="t" domain={xDomain} ticks={xTicks} interval={0} allowDataOverflow height={20} tick={{ fontSize: TICK_FONT, fill: INK }} />
          <YAxis {...axisProps} type="number" dataKey="s" domain={[-0.05, 1.05]} ticks={[0, 0.25, 0.5, 0.75, 1]} interval={0} allowDataOverflow width={AXIS_W} tick={{ fontSize: TICK_FONT, fill: INK }} tickFormatter={(v: number) => v.toFixed(2)} />
          <Line data={lowLine} dataKey="s" type="stepAfter" stroke={BLUE} strokeWidth={1.6} dot={false} isAnimationActive={false} />
          <Line data={highLine} dataKey="s" type="stepAfter" stroke={RED} strokeWidth={1.6} dot={false} isAnimationActive={false} />
          <Scatter data={lowMarks} dataKey="s" shape={plus(BLUE)} isAnimationActive={false} />
          <Scatter data={highMarks} dataKey="s" shape={plus(RED)} isAnimationActive={false} />
        </ComposedChart>
      </div>

      {label('Survival probability', p.x0 - 41, p.y1 + 54.5, 10.5, { transform: 'translate(-50%,-50%) rotate(-90deg)' })}
      <div style={{ position: 'absolute', left: p.x0 + 4, top: p.y1 + 88, transform: 'translateY(-50%)', fontSize: 12.5, color: INK, whiteSpace: 'nowrap' }}>{p.p}</div>
      {label('Time(years)', midX, p.y1 + 133, 10.4)}

      <div style={{ position: 'absolute', left: plotLeft - AXIS_W, top: p.y1 + 160 }}>
        <ComposedChart width={PLOT_W + AXIS_W + 8} height={42} margin={{ top: 2, right: 8, bottom: 0, left: 0 }}>
          <XAxis {...axisProps} type="number" dataKey="t" domain={xDomain} ticks={xTicks} interval={0} allowDataOverflow height={22} tick={{ fontSize: TICK_FONT, fill: INK }} />
          <YAxis {...axisProps} type="number" dataKey="row" domain={[0.375, 2.625]} ticks={[1, 2]} interval={0} width={AXIS_W} tick={<RiskTick />} />
          <Scatter data={tableHigh} dataKey="row" shape={countLabel(RED)} isAnimationActive={false} />
          <Scatter data={tableLow} dataKey="row" shape={countLabel(BLUE)} isAnimationActive={false} />
        </ComposedChart>
      </div>
      {label('risk score', p.x0 - 41, p.y1 + 171, 10.8, { transform: 'translate(-50%,-50%) rotate(-90deg)' })}
      {label('Time(years)', midX, p.y1 + 199, 10.4)}
    </>
  )
}

export default function App() {
  return (
    <div style={{ position: 'absolute', left: 0, top: 0, width: 1356, height: 1774, overflow: 'hidden', background: '#fff', fontFamily: FONT, color: INK }}>
      <div style={{ position: 'absolute', left: 7, top: 5, width: 1341, height: 1800, border: '1.5px solid #6e6e6e', borderBottom: 'none' }} />
      {letters.map(l => (
        <div key={l.t} style={{ position: 'absolute', left: l.x, top: l.y, transform: 'translate(-50%,-50%)', fontSize: 26, fontWeight: 700, color: '#000' }}>{l.t}</div>
      ))}
      <div style={{ position: 'absolute', left: 720, top: 594, fontSize: 8, color: '#555' }}>.</div>
      {panels.map(p => (
        <KMPanel key={p.title} p={p} />
      ))}
      <div style={{ position: 'absolute', left: 25, top: 1721, fontSize: 17.2, lineHeight: '24px', color: '#222', whiteSpace: 'nowrap' }}>
        <div>
          <b>FIGURE 6 | </b>Clinical subgroup survival analysis. <b>(A)</b> Age, <b>(B)</b> Gender, <b>(C)</b> AFP, <b>(D)</b> Histology grade, <b>(E)</b> Vascular tumor cell type, <b>(F)</b> ALT, <b>(G)</b> New tumor event after
        </div>
        <div>
          initiative treatment, <b>(H)</b> Prior malignancy, <b>(I)</b> AJCC stage, <b>(J)</b> BCLC stage, <b>(K)</b> CLIP score.
        </div>
      </div>
    </div>
  )
}
